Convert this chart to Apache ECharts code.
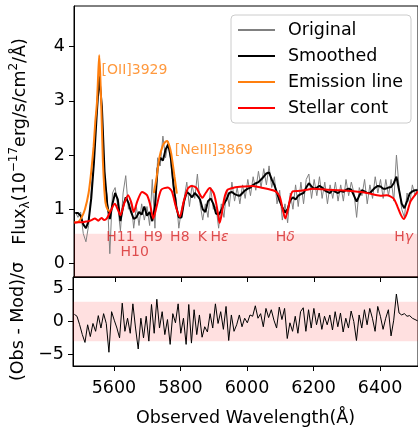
<!DOCTYPE html>
<html>
<head>
<meta charset="utf-8">
<script src="https://cdn.jsdelivr.net/npm/echarts@6/dist/echarts.min.js"></script>
<style>
  html, body { margin: 0; padding: 0; background: #fff; }
  #chart { width: 418px; height: 428px; }
</style>
</head>
<body>
<div id="chart"></div>
<script>
// wavelength grid of the observed spectrum (Å)
var wave = [
  5481,5489,5497,5505,5513,5521,5529,5537,5545,5553,
  5561,5569,5577,5585,5593,5601,5609,5617,5625,5633,
  5641,5649,5657,5665,5673,5681,5689,5697,5705,5713,
  5721,5729,5737,5745,5753,5761,5769,5777,5785,5793,
  5801,5809,5817,5825,5833,5841,5849,5857,5865,5873,
  5881,5889,5897,5905,5913,5921,5929,5937,5945,5953,
  5961,5969,5977,5985,5993,6001,6009,6017,6025,6033,
  6041,6049,6057,6065,6073,6081,6089,6097,6105,6113,
  6121,6129,6137,6145,6153,6161,6169,6177,6185,6193,
  6201,6209,6217,6225,6233,6241,6249,6257,6265,6273,
  6281,6289,6297,6305,6313,6321,6329,6337,6345,6353,
  6361,6369,6377,6385,6393,6401,6409,6417,6425,6433,
  6441,6449,6457,6465,6473,6481,6489,6497,6505,6513
];
var original = [
  0.95,0.85,0.95,0.55,0.40,0.70,1.35,1.90,2.85,3.60,
  2.80,1.55,1.25,0.18,1.30,1.40,1.05,0.60,1.30,1.62,
  1.00,1.15,0.65,1.05,0.70,1.10,0.80,1.05,0.70,1.55,
  0.65,1.95,1.80,2.35,1.95,2.25,1.85,1.35,1.20,0.65,
  1.00,1.20,1.50,1.05,1.45,1.20,1.65,1.10,0.80,1.10,
  0.85,1.40,1.00,1.05,0.65,1.10,0.85,1.35,1.05,1.50,
  1.15,1.40,1.10,1.45,1.20,1.55,1.25,1.60,1.35,1.70,
  1.40,1.75,1.45,1.80,1.40,1.60,1.10,1.35,0.80,1.10,
  0.75,1.30,1.00,1.45,1.05,1.50,1.10,1.55,1.65,1.20,
  1.55,1.25,1.60,1.20,1.50,1.10,1.45,1.20,1.50,1.15,
  1.45,1.15,1.55,1.25,1.50,1.30,0.85,1.40,1.25,1.55,
  1.10,1.45,1.20,1.60,1.30,1.55,1.20,1.55,1.25,1.55,
  1.15,2.00,1.40,1.00,0.85,1.30,1.10,1.45,1.25,1.40
];
var smoothed = [
  0.93,0.93,0.88,0.72,0.65,0.78,1.20,1.85,2.70,3.45,
  2.90,1.70,1.10,0.82,1.10,1.30,1.18,0.78,1.05,1.22,
  1.12,0.95,0.82,0.85,0.95,0.90,1.05,0.88,0.95,0.78,
  1.05,1.75,1.95,1.90,2.10,2.20,1.95,1.45,1.05,0.85,
  0.85,1.15,1.32,1.28,1.22,1.30,1.25,1.18,1.00,0.95,
  1.15,1.20,1.10,0.92,0.90,0.98,1.10,1.18,1.30,1.32,
  1.28,1.26,1.25,1.30,1.35,1.38,1.40,1.45,1.48,1.50,
  1.55,1.60,1.66,1.68,1.55,1.45,1.30,1.15,1.04,0.94,
  1.00,1.17,1.22,1.18,1.25,1.28,1.30,1.40,1.48,1.42,
  1.38,1.40,1.43,1.40,1.35,1.32,1.30,1.36,1.32,1.30,
  1.34,1.32,1.36,1.38,1.36,1.25,1.14,1.25,1.35,1.33,
  1.30,1.30,1.35,1.40,1.43,1.42,1.38,1.38,1.40,1.41,
  1.48,1.60,1.35,1.10,1.02,1.15,1.29,1.33,1.35,1.35
];
// (Obs - Mod)/sigma on the same grid
var residual = [
  1.1,0.8,-0.5,-2.0,-3.2,-0.5,-2.3,-0.3,-1.5,0.9,
  -1.0,1.2,-0.3,-4.7,1.5,0.2,-1.0,-2.5,2.8,-1.5,
  0.5,-1.8,2.7,-1.0,-4.2,0.5,-2.5,0.8,-3.0,2.6,
  -1.8,3.4,-1.0,1.5,-2.0,0.3,-3.5,1.2,-0.2,2.7,
  -1.8,0.5,-3.5,2.6,-3.3,1.8,-2.0,1.0,-2.4,-0.8,
  -1.6,1.2,-1.0,2.7,-0.3,1.5,-1.2,2.3,-2.9,1.0,
  -1.5,-0.5,1.0,-0.8,0.5,-0.2,1.0,0.8,2.4,0.5,
  1.2,-0.8,2.0,0.6,1.8,0.2,-1.0,2.2,0.3,2.0,
  -2.6,-0.2,-1.5,0.8,-1.8,1.5,2.1,-1.5,1.8,-1.0,
  2.0,-0.5,1.3,-1.2,0.8,-0.5,1.0,-1.3,1.5,-0.8,
  1.3,-1.6,0.5,-1.0,1.6,0.0,-2.9,1.0,-1.0,1.8,
  -0.5,2.0,0.5,-1.5,2.3,0.8,-1.2,0.5,1.8,-2.2,
  0.2,4.2,1.3,1.0,1.2,0.8,0.9,0.5,0.3,0.1
];

// stellar continuum model
var stellarWave = [5478,5490,5500,5510,5520,5530,5540,5550,5560,5568,
  5576,5586,5600,5610,5617,5628,5640,5650,5657,5668,
  5682,5697,5706,5716,5726,5740,5760,5772,5784,5796,
  5808,5820,5831,5845,5856,5864,5874,5886,5898,5906,
  5912,5916,5922,5930,5940,5960,5990,6015,6040,6065,
  6085,6098,6106,6114,6122,6136,6160,6200,6240,6280,
  6320,6360,6400,6420,6440,6452,6462,6471,6480,6492,6514];
var stellarFlux = [0.75,0.76,0.76,0.77,0.78,0.80,0.83,0.79,0.84,0.80,
  0.83,0.95,1.10,0.98,0.89,1.10,1.26,1.12,0.95,1.15,
  1.32,1.26,1.10,0.83,1.05,1.36,1.40,1.33,1.05,0.86,
  1.15,1.38,1.43,1.40,1.28,1.21,1.30,1.39,1.30,1.10,
  0.88,0.75,0.90,1.20,1.36,1.40,1.42,1.43,1.40,1.37,
  1.33,1.22,1.00,0.83,1.00,1.33,1.34,1.38,1.36,1.35,
  1.33,1.30,1.25,1.26,1.20,1.05,0.90,0.82,0.92,1.15,1.33];

// emission line model, [OII] and [NeIII] pieces
var oiiWave = [5478,5490,5500,5510,5521,5529,5536,5541,5546,5550,5553,5556,5559,5564,5568,5572,5578,5586];
var oiiFlux = [0.76,0.77,0.85,1.00,1.30,1.70,2.15,2.60,2.95,3.50,3.84,3.50,2.95,1.90,1.40,1.12,1.00,0.95];
var neiiiWave = [5718,5725,5735,5745,5752,5758,5764,5770,5776,5780,5787];
var neiiiFlux = [1.30,1.55,1.97,2.18,2.24,2.26,2.18,2.03,1.78,1.60,1.29];

// line identifications
var absNames = ['H11', 'H10', 'H9', 'H8', 'K', 'Hε', 'Hδ', 'Hγ'];
var absWave  = [5617, 5660, 5716, 5796, 5864, 5916, 6114, 6471];
var emisNames = ['[OII]3929', '[NeIII]3869'];
var emisWave  = [5560, 5781];

var xTicks = [5600, 5800, 6000, 6200, 6400];
var fluxTicks = [0, 1, 2, 3, 4];
var residTicks = [-5, 0, 5];

var xMin = 5477, xMax = 6514;
var fluxMin = -0.25, fluxMax = 4.75;
var residMin = -6.8, residMax = 6.8;

function pairs(xs, ys) {
  return xs.map(function (x, i) { return [x, ys[i]]; });
}
function plain(v) { return v < 0 ? '\u2212' + (-v) : String(v); }

var absLabelY = [0.49, 0.21, 0.49, 0.49, 0.49, 0.49, 0.49, 0.49];
var emisLabelY = [3.57, 2.09];

var greek = { 'ε': 1, 'δ': 1, 'γ': 1 };
var absData = absNames.map(function (n, i) {
  var txt = greek[n[1]] ? '{n|H}{g|' + n[1] + '}' : '{n|' + n + '}';
  return { value: [absWave[i], absLabelY[i]], txt: txt };
});
var emisData = emisNames.map(function (n, i) {
  return { value: [emisWave[i], emisLabelY[i]], txt: n };
});

var emissionData = pairs(oiiWave, oiiFlux).concat([[5650, '-']]).concat(pairs(neiiiWave, neiiiFlux));

var font = 'DejaVu Sans';
var fs = 17.5;
var band = 'rgba(255,0,0,0.12)';

var chart = echarts.init(document.getElementById('chart'));
chart.setOption({
  animation: false,
  textStyle: { fontFamily: font },
  grid: [
    { left: 73, right: -2, top: 6, height: 271, show: true, borderColor: '#000', borderWidth: 1 },
    { left: 73, right: -2, top: 277, height: 90, show: true, borderColor: '#000', borderWidth: 1 }
  ],
  legend: {
    orient: 'vertical',
    left: 231,
    top: 15,
    padding: [5, 8, 5, 6],
    itemGap: 6,
    itemWidth: 37,
    itemHeight: 14,
    itemStyle: { opacity: 0 },
    backgroundColor: 'rgba(255,255,255,0.8)',
    borderColor: '#cccccc',
    borderWidth: 1,
    borderRadius: 4,
    textStyle: { fontSize: fs, color: '#000', fontFamily: font, lineHeight: 20, padding: [0, 0, 0, 8] },
    data: ['Original', 'Smoothed', 'Emission line', 'Stellar cont']
  },
  xAxis: [
    {
      gridIndex: 0, type: 'value', min: xMin, max: xMax,
      axisLine: { onZero: false, lineStyle: { color: '#000' } },
      axisTick: { length: 5, customValues: xTicks, lineStyle: { color: '#000' } },
      axisLabel: { show: false },
      splitLine: { show: false }
    },
    {
      gridIndex: 1, type: 'value', min: xMin, max: xMax,
      axisLine: { onZero: false, lineStyle: { color: '#000' } },
      axisTick: { length: 5, customValues: xTicks, lineStyle: { color: '#000' } },
      axisLabel: { customValues: xTicks, fontSize: fs, color: '#000', margin: 13, formatter: plain },
      splitLine: { show: false },
      name: 'Observed Wavelength(Å)',
      nameLocation: 'middle',
      nameGap: 43,
      nameTextStyle: { fontSize: fs, color: '#000' }
    }
  ],
  yAxis: [
    {
      gridIndex: 0, type: 'value', min: fluxMin, max: fluxMax,
      axisLine: { show: true, onZero: false, lineStyle: { color: '#000' } },
      axisTick: { show: true, length: 5, customValues: fluxTicks, lineStyle: { color: '#000' } },
      axisLabel: { customValues: fluxTicks, fontSize: fs, color: '#000', margin: 9, formatter: plain },
      splitLine: { show: false },
      name: '{a|Flux}{s|λ}{a|(10}{p|−17}{a|erg/s/cm}{p|2}{a|/Å)}',
      nameLocation: 'middle',
      nameRotate: 90,
      nameGap: 42,
      nameTextStyle: {
        color: '#000',
        rich: {
          a: { fontSize: fs, color: '#000', fontFamily: font, lineHeight: 24 },
          s: { fontSize: 12, color: '#000', fontFamily: font, verticalAlign: 'bottom', lineHeight: 24 },
          p: { fontSize: 12, color: '#000', fontFamily: font, verticalAlign: 'top', lineHeight: 24 }
        }
      }
    },
    {
      gridIndex: 1, type: 'value', min: residMin, max: residMax,
      axisLine: { show: true, onZero: false, lineStyle: { color: '#000' } },
      axisTick: { show: true, length: 5, customValues: residTicks, lineStyle: { color: '#000' } },
      axisLabel: { customValues: residTicks, fontSize: fs, color: '#000', margin: 9, formatter: plain },
      splitLine: { show: false },
      name: '(Obs - Mod)/σ',
      nameLocation: 'middle',
      nameRotate: 90,
      nameGap: 44,
      nameTextStyle: { fontSize: fs, color: '#000' }
    }
  ],
  series: [
    {
      name: 'Original', type: 'line', xAxisIndex: 0, yAxisIndex: 0,
      data: pairs(wave, original), symbol: 'none',
      lineStyle: { color: '#808080', width: 1 }, itemStyle: { color: '#808080' },
      markArea: {
        silent: true,
        itemStyle: { color: band },
        data: [[{ coord: [xMin, fluxMin] }, { coord: [xMax, 0.55] }]]
      }
    },
    {
      name: 'Smoothed', type: 'line', xAxisIndex: 0, yAxisIndex: 0,
      data: pairs(wave, smoothed), symbol: 'none',
      lineStyle: { color: '#000', width: 2 }, itemStyle: { color: '#000' }
    },
    {
      name: 'Emission line', type: 'line', xAxisIndex: 0, yAxisIndex: 0,
      data: emissionData, symbol: 'none', smooth: 0.2, connectNulls: false,
      lineStyle: { color: '#ff7f0e', width: 2 }, itemStyle: { color: '#ff7f0e' }
    },
    {
      name: 'Stellar cont', type: 'line', xAxisIndex: 0, yAxisIndex: 0,
      data: pairs(stellarWave, stellarFlux), symbol: 'none', smooth: 0.25,
      lineStyle: { color: '#ff0000', width: 2 }, itemStyle: { color: '#ff0000' }
    },
    {
      name: 'Residual', type: 'line', xAxisIndex: 1, yAxisIndex: 1,
      data: pairs(wave, residual), symbol: 'none',
      lineStyle: { color: '#000', width: 1 },
      markArea: {
        silent: true,
        itemStyle: { color: band },
        data: [[{ coord: [xMin, -3] }, { coord: [xMax, 3] }]]
      }
    },
    {
      type: 'scatter', xAxisIndex: 0, yAxisIndex: 0, symbolSize: 0, silent: true, z: 10,
      data: absData,
      label: {
        show: true, position: 'inside',
        formatter: function (p) { return p.data.txt; },
        rich: {
          n: { fontSize: 14, color: '#d62728', fontFamily: font },
          g: { fontSize: 14, color: '#d62728', fontFamily: font, fontStyle: 'italic' }
        }
      }
    },
    {
      type: 'scatter', xAxisIndex: 0, yAxisIndex: 0, symbolSize: 0, silent: true, z: 10,
      data: emisData,
      label: {
        show: true, position: 'inside', align: 'left',
        formatter: function (p) { return p.data.txt; },
        fontSize: 14, color: '#ff7f0e', fontFamily: font
      }
    }
  ]
});
</script>
</body>
</html>
